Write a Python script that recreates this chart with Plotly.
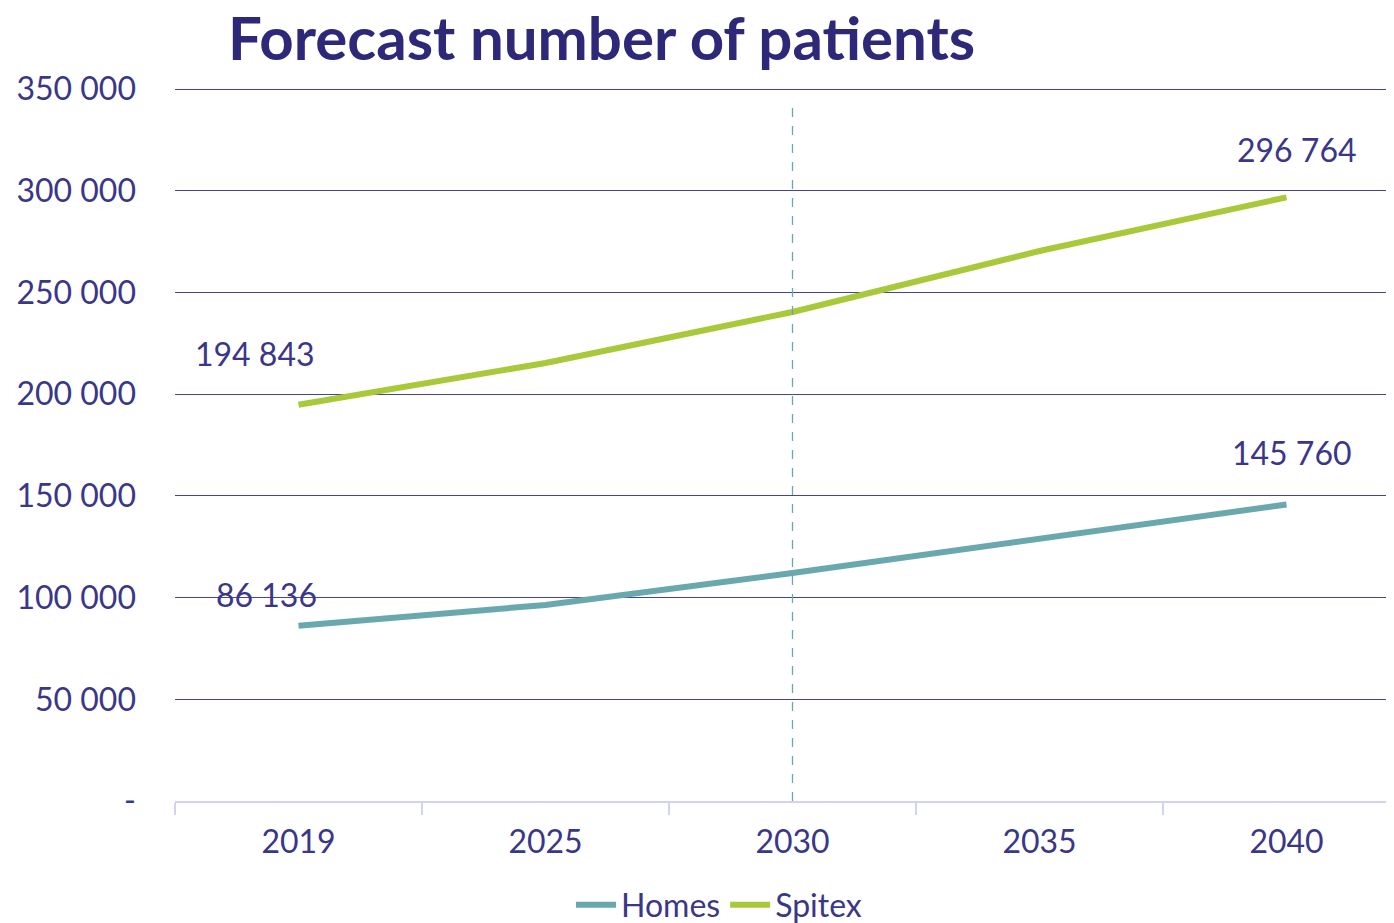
import plotly.graph_objects as go

years = ["2019", "2025", "2030", "2035", "2040"]
homes = [86136, 96400, 112100, 128800, 145760]
spitex = [194843, 215300, 240400, 270400, 296764]
y_ticks = [0, 50000, 100000, 150000, 200000, 250000, 300000, 350000]
y_tick_labels = ["-", "50 000", "100 000", "150 000", "200 000", "250 000", "300 000", "350 000"]
label_points = [("Spitex", 0, "194 843"), ("Homes", 0, "86 136"), ("Spitex", 4, "296 764"), ("Homes", 4, "145 760")]
marker_year = "2030"

NAVY = "#3A3788"
GRID = "#45439A"
TITLE = "#2E2878"
TEAL = "#69A9AD"
LIME = "#A8C93A"
FONT = "Lato"
OFF = 8  # page body margin offset
Y_MAX = 352000

fig = go.Figure()
fig.add_trace(go.Scatter(x=years, y=homes, name="Homes", mode="lines",
                         line=dict(color=TEAL, width=6)))
fig.add_trace(go.Scatter(x=years, y=spitex, name="Spitex", mode="lines",
                         line=dict(color=LIME, width=6)))
# vertical dashed reference line at marker year
fig.add_trace(go.Scatter(x=[marker_year, marker_year], y=[0, y_ticks[-1] * 0.985],
                         mode="lines", showlegend=False, hoverinfo="skip",
                         line=dict(color=TEAL, width=1.3, dash="dash")))

series = {"Homes": homes, "Spitex": spitex}
shifts = {("Spitex", 0): (-44, 51), ("Homes", 0): (-32, 31),
          ("Spitex", 4): (10, 48), ("Homes", 4): (5, 52)}
for name, i, txt in label_points:
    xs, ys = shifts[(name, i)]
    fig.add_annotation(x=i, y=series[name][i], xref="x", yref="y", text=txt,
                       showarrow=False, xshift=xs, yshift=ys,
                       font=dict(family=FONT, size=32, color=NAVY))

fig.update_layout(
    width=1394, height=923,
    margin=dict(l=175 - OFF, r=0, t=77, b=923 - (801 - OFF)),
    paper_bgcolor="white", plot_bgcolor="white",
    title=dict(text="<b>Forecast number of patients</b>", x=(228 - OFF) / 1394, xref="container",
               xanchor="left", y=1 - (39 - OFF) / 923, yref="container", yanchor="middle",
               font=dict(family=FONT, size=60, color=TITLE, weight=900)),
    font=dict(family=FONT, color=NAVY),
    showlegend=True,
    legend=dict(orientation="h", xref="container", x=(719 - OFF) / 1394, xanchor="center",
                yref="container", y=1 - (905 - OFF) / 923, yanchor="middle",
                font=dict(family=FONT, size=32, color=NAVY), itemwidth=40),
    xaxis=dict(type="category", categoryorder="array", categoryarray=years,
               range=[-0.5, -0.5 + (1394 - 175 + OFF) / 247], showgrid=False,
               showline=True, linecolor="#D4D2F2", linewidth=2,
               ticks="outside", tickson="boundaries", ticklen=12, tickcolor="#D4D2F2",
               tickwidth=1.5, tickfont=dict(family=FONT, size=32, color=NAVY),
               ticklabelstandoff=12, zeroline=False),
    yaxis=dict(range=[0, Y_MAX], tickvals=y_ticks, ticktext=y_tick_labels,
               showgrid=True, gridcolor=GRID, gridwidth=1.3, zeroline=False,
               showline=False, tickfont=dict(family=FONT, size=32, color=NAVY),
               ticklabelstandoff=38),
)

fig.write_html("out.html")
